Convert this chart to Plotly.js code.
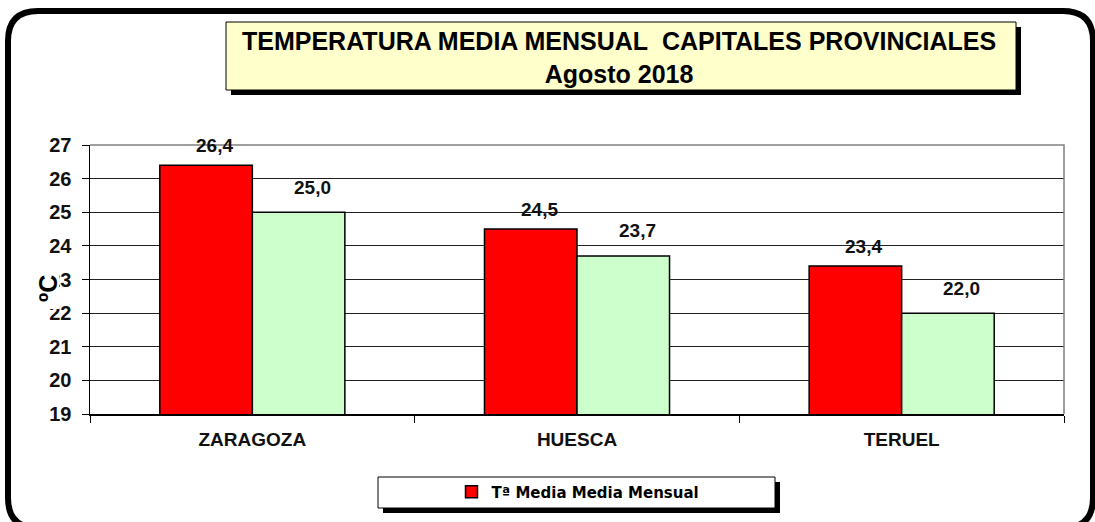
<!DOCTYPE html>
<html>
<head>
<meta charset="utf-8">
<script src="https://cdn.plot.ly/plotly-3.0.1.min.js"></script>
<style>
  html, body { margin: 0; padding: 0; background: #fff; }
  #chart { width: 1095px; height: 522px; }
</style>
</head>
<body>
<div id="chart"></div>
<script>
// ---- data ----
const CITIES = ['ZARAGOZA', 'HUESCA', 'TERUEL'];
const MEDIA_MENSUAL = [26.4, 24.5, 23.4];
const MEDIA_NORMAL = [25.0, 23.7, 22.0];
const Y_TICKS = [19, 20, 21, 22, 23, 24, 25, 26, 27];
const LEGEND_NAME = 'Tª Media Media Mensual';
const TITLE_LINES = ['TEMPERATURA MEDIA MENSUAL\u00a0 CAPITALES PROVINCIALES', 'Agosto 2018'];

// ---- geometry (pixels) ----
const W = 1095, H = 522;
const PL = 90, PR = 1064, PT = 145, PB = 414;
const px = x => (x - PL) / (PR - PL);
const py = y => (PB - y) / (PB - PT);

const FONT = "Arial, 'Liberation Sans', sans-serif";
const fmt = v => v.toFixed(1).replace('.', ',');

function rect(x0, y0, x1, y1, fill, line) {
  return {
    type: 'rect', xref: 'paper', yref: 'paper', layer: 'above',
    x0: px(x0), x1: px(x1), y0: py(y1), y1: py(y0),
    fillcolor: fill, line: line || { width: 0 },
  };
}

function roundFrame(x0, y0, x1, y1, r) {
  const p = (x, y) => px(x) + ',' + py(y);
  const d = 'M' + p(x0 + r, y0) + ' L' + p(x1 - r, y0) + ' Q' + p(x1, y0) + ' ' + p(x1, y0 + r) +
    ' L' + p(x1, y1 - r) + ' Q' + p(x1, y1) + ' ' + p(x1 - r, y1) +
    ' L' + p(x0 + r, y1) + ' Q' + p(x0, y1) + ' ' + p(x0, y1 - r) +
    ' L' + p(x0, y0 + r) + ' Q' + p(x0, y0) + ' ' + p(x0 + r, y0) + ' Z';
  return { type: 'path', xref: 'paper', yref: 'paper', layer: 'above', path: d, line: { color: '#000', width: 6 } };
}

const traces = [
  {
    x: CITIES, y: MEDIA_MENSUAL, type: 'bar', name: LEGEND_NAME,
    marker: { color: '#ff0000', line: { color: '#000', width: 1.5 } },
    hoverinfo: 'skip',
  },
  {
    x: CITIES, y: MEDIA_NORMAL, type: 'bar', name: 'Normal', showlegend: false,
    marker: { color: '#ccffcc', line: { color: '#000', width: 1.5 } },
    hoverinfo: 'skip',
  },
];

// data labels
const labelFont = { family: FONT, size: 19, color: '#111', weight: 700 };
const annotations = [];
CITIES.forEach((c, i) => {
  annotations.push({ x: c, y: MEDIA_MENSUAL[i], text: fmt(MEDIA_MENSUAL[i]), showarrow: false,
    xshift: -46 + 8, yshift: 20, yanchor: 'middle', font: labelFont });
  annotations.push({ x: c, y: MEDIA_NORMAL[i], text: fmt(MEDIA_NORMAL[i]), showarrow: false,
    xshift: 46 + 14, yshift: 25, yanchor: 'middle', font: labelFont });
});

// title text
annotations.push({
  xref: 'paper', yref: 'paper', x: px(619), y: py(58), xanchor: 'center', yanchor: 'middle',
  text: TITLE_LINES.join('<br>'), showarrow: false,
  font: { family: FONT, size: 25, color: '#000', weight: 700 },
});

// y axis title
annotations.push({
  xref: 'paper', yref: 'paper', x: px(48), y: py(289), xanchor: 'center', yanchor: 'middle',
  text: 'ºC', textangle: -90, showarrow: false,
  font: { family: FONT, size: 25, color: '#000', weight: 700 },
});

const shapes = [
  // plot border top/right in grey
  { type: 'path', xref: 'paper', yref: 'paper', layer: 'above', path: 'M0,1 L1,1 L1,0', line: { color: '#808080', width: 1.5 } },
  // white backing of the axis title (hides part of a tick label, as in the original)
  rect(30, 268, 59, 309, '#fff'),
  // title box
  rect(231, 27, 1021, 95, '#000'),
  rect(226, 22, 1016, 90, '#ffffcc', { color: '#000', width: 1 }),
  // legend box
  rect(383, 482, 780, 513, '#000'),
  rect(378, 477, 775, 508, '#fff', { color: '#000', width: 1 }),
  roundFrame(8, 11, 1093, 528, 30),
];

const layout = {
  width: W, height: H,
  margin: { l: PL, r: W - PR, t: PT, b: H - PB, pad: 0 },
  paper_bgcolor: '#fff', plot_bgcolor: '#fff',
  barmode: 'group', bargap: 0.43, bargroupgap: 0,
  showlegend: true,
  legend: {
    xref: 'paper', yref: 'paper', x: px(578), y: py(492), xanchor: 'center', yanchor: 'middle',
    bgcolor: 'rgba(0,0,0,0)', borderwidth: 0,
    font: { family: "'DejaVu Sans', Verdana, sans-serif", size: 15, color: '#000', weight: 700 },
  },
  xaxis: {
    type: 'category', tickson: 'boundaries', ticks: 'outside', ticklen: 7, tickcolor: '#000',
    showline: true, linecolor: '#000', linewidth: 1.5, showgrid: false,
    tickfont: { family: FONT, size: 19, color: '#111', weight: 700 }, ticklabelstandoff: 8,
  },
  yaxis: {
    range: [19, 27], tickvals: Y_TICKS, ticktext: Y_TICKS.map(String),
    ticks: 'outside', ticklen: 7, tickcolor: '#000',
    showline: true, linecolor: '#000', linewidth: 1.5,
    showgrid: true, gridcolor: '#222', gridwidth: 1, zeroline: false,
    tickfont: { family: FONT, size: 20, color: '#111', weight: 700 }, ticklabelstandoff: 6,
  },
  annotations: annotations,
  shapes: shapes,
};

Plotly.newPlot('chart', traces, layout, { displayModeBar: false, staticPlot: true });
</script>
</body>
</html>
